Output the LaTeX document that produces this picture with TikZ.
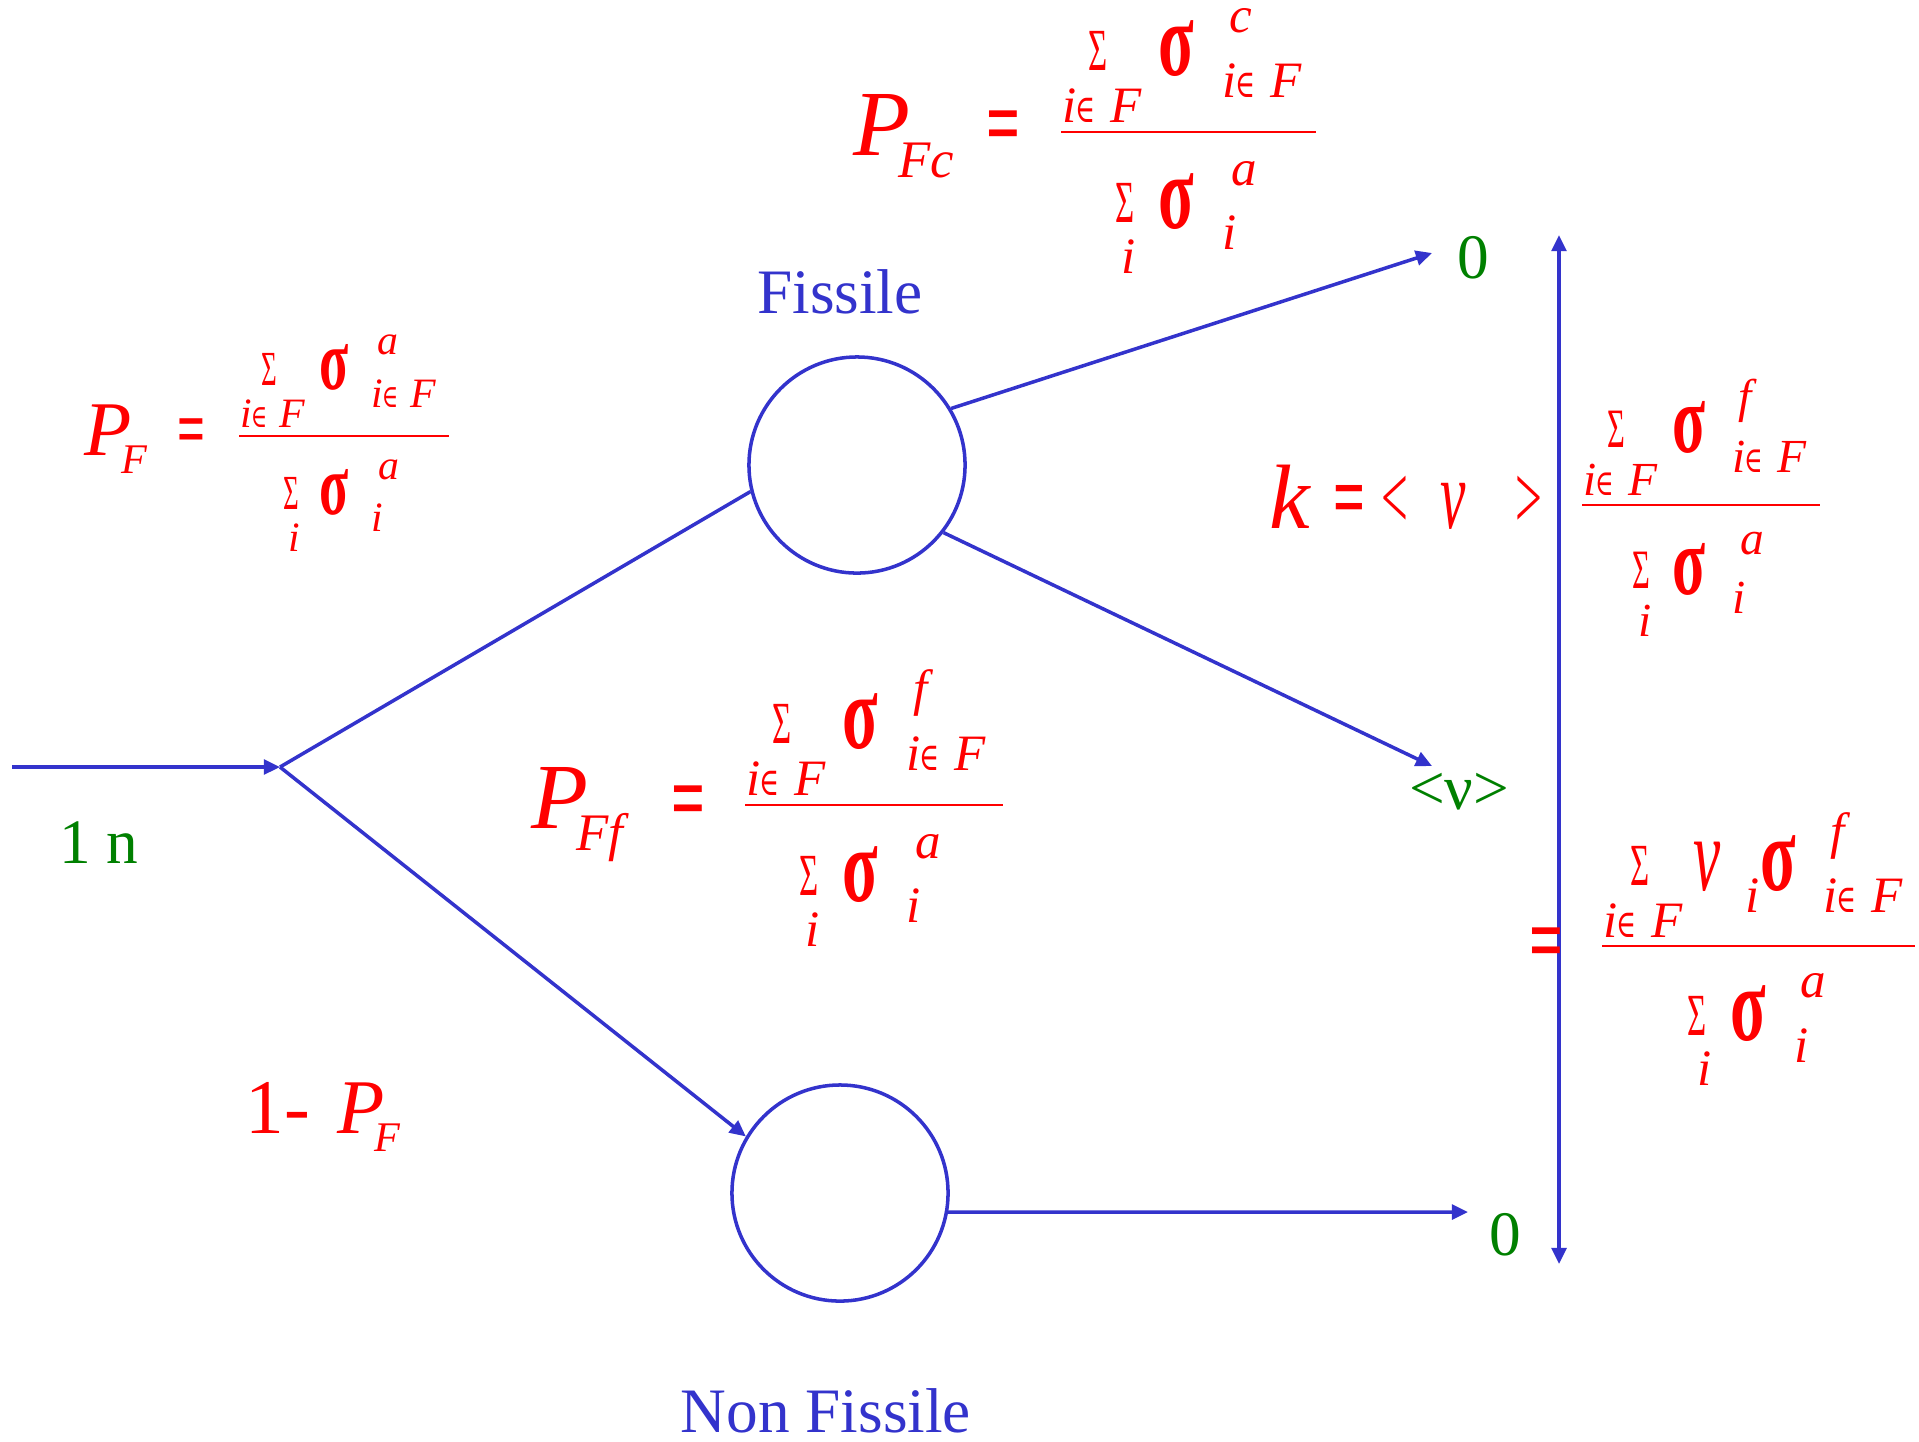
\documentclass[tikz,border=0pt]{standalone}
\usepackage{fontspec}
\usepackage{graphicx}
\setmainfont{Liberation Serif}
\newfontfamily\symf{DejaVu Serif}
\usetikzlibrary{arrows.meta}

\definecolor{nblue}{RGB}{51,51,204}
\definecolor{ngreen}{RGB}{0,128,0}
\definecolor{nred}{RGB}{255,0,0}

\newcommand{\sz}[1]{\fontsize{#1}{#1}\selectfont}
\newcommand{\inF}{\textit{i}\kern-0.03em\scalebox{0.7}[1]{\sz{11}\symf ∈}\hspace{0.3em}\textit{F}}
\newcommand{\Sig}{\scalebox{0.55}[1]{\sz{17}\upshape Σ}}
\newcommand{\sig}{\scalebox{0.62}[1]{\sz{30}\upshape\bfseries σ}}
\newcommand{\nuv}[1]{\scalebox{0.58}[1]{\sz{#1}\itshape ν}}
\newcommand{\Psub}[3]{\sz{#1}\textit{P}\kern-0.13em\raisebox{-0.24em}{\sz{#2}\textit{#3}}}
\newcommand{\eqs}[1]{\scalebox{1}[1.6]{\sz{#1}\upshape\bfseries =}}

% sum over fissile / sum over all, origin = left end of the rule
\newcommand{\sigfrac}[3]{%
  \draw[rule] (0,0) coordinate (#1) -- (#3,0);
  \node[piece] (#1-nl) at (1,-10) {\inF};
  \node[piece] (#1-ns) at (27,-62) {\Sig};
  \node[piece] (#1-nsg) at (97,-57) {\sig};
  \node[piece] (#1-nsp) at (168,-100) {#2};
  \node[piece] (#1-nsb) at (161,-35) {\inF};
  \node[piece] (#1-ds) at (54,90) {\Sig};
  \node[piece] (#1-dl) at (60,141) {i};
  \node[piece] (#1-dsg) at (97,96) {\sig};
  \node[piece] (#1-dsp) at (170,53) {a};
  \node[piece] (#1-dsb) at (161,117) {i};
}

\begin{document}
\begin{tikzpicture}[x=0.01cm,y=-0.01cm,
  link/.style={draw=nblue, line width=1pt},
  arr/.style={link, -{Triangle[length=4.6pt,width=4.2pt]}},
  ball/.style={circle, draw=nblue, line width=1pt, minimum size=2.16cm, inner sep=0pt},
  blab/.style={text=nblue, inner sep=0pt, font=\sz{18}},
  glab/.style={text=ngreen, inner sep=0pt, font=\sz{18}},
  rtxt/.style={text=nred, inner sep=0pt, anchor=base west},
  piece/.style={text=nred, inner sep=0pt, anchor=base west, font=\sz{14.5}\itshape},
  rule/.style={draw=nred, line width=0.4pt}]
\useasboundingbox (0,0) rectangle (1919,1441);

% tree
\node[ball] (fis) at (857,465) {};
\node[ball] (nonfis) at (840,1193) {};
\coordinate (in) at (12,767);
\coordinate (jn) at (280,767);
\coordinate (tA) at (1432,253);
\coordinate (tB) at (1432,766);
\coordinate (tC) at (1468,1212);
\coordinate (kt) at (1559,235);
\coordinate (kb) at (1559,1264);

\node[blab, anchor=base] (fisl) at (840,313) {Fissile};
\node[blab, anchor=base] (nonfisl) at (826,1432) {Non Fissile};
\node[glab, anchor=base] (onen) at (99,863) {1 n};
\node[glab, anchor=base] (zeroA) at (1473,278) {0};
\node[glab, anchor=base] (nuavg) at (1459,809) {<ν>};
\node[glab, anchor=base] (zeroB) at (1505,1255) {0};

\draw[arr] (in) -- (jn);
\draw[link] (jn) -- (fis.194);
\draw[arr] (jn) -- (nonfis.149);
\draw[arr] (fis.31) -- (tA);
\draw[arr] (fis.322) -- (tB);
\draw[arr] (nonfis.350) -- (tC);
\draw[link, {Triangle[length=4.6pt,width=4.2pt]}-{Triangle[length=4.6pt,width=4.2pt]}] (kt) -- (kb);

% P_F
\node[rtxt] (pf) at (84,455) {\Psub{22}{12}{F}};
\node[rtxt] (pfeq) at (177,455) {\eqs{14}};
\begin{scope}[shift={(239,436)}, scale=0.82, transform shape]
\sigfrac{pffr}{a}{256}
\end{scope}
\node[rtxt] (onem) at (245,1133) {\sz{22}1-\hspace{0.35em}\Psub{22}{12}{F}};

% P_Fc
\node[rtxt] (pfc) at (853,155) {\Psub{26.5}{15}{Fc}};
\node[rtxt] (pfceq) at (986,155) {\eqs{17}};
\begin{scope}[shift={(1061,132)}]
\sigfrac{pfcfr}{c}{255}
\end{scope}

% P_Ff
\node[rtxt] (pff) at (531,828) {\Psub{26.5}{15}{Ff}};
\node[rtxt] (pffeq) at (671,830) {\eqs{17}};
\begin{scope}[shift={(745,805)}]
\sigfrac{pfffr}{f}{258}
\end{scope}

% k
\node[rtxt] (kk) at (1269,528) {\sz{26}\textit{k}};
\node[rtxt] (keq) at (1333,527) {\eqs{16}};
\node[rtxt] (klt) at (1381,528) {\scalebox{0.52}[1]{\sz{26}<}};
\node[rtxt] (knu) at (1440,528) {\nuv{28}};
\node[rtxt] (kgt) at (1515,528) {\scalebox{0.52}[1]{\sz{26}>}};
\begin{scope}[shift={(1582,505)}, scale=0.93, transform shape]
\sigfrac{kfr}{f}{256}
\end{scope}

% = sum nu_i sigma_f / sum sigma_a
\node[rtxt] (leq) at (1529,972) {\eqs{17}};
\begin{scope}[shift={(1602,946)}]
\draw[rule] (0,0) coordinate (lfr) -- (313,0);
\node[piece] (lfr-nl) at (1,-9) {\inF};
\node[piece] (lfr-ns) at (28,-61) {\Sig};
\node[piece] (lfr-nnu) at (91,-56) {\nuv{30}};
\node[piece] (lfr-ni) at (143,-34) {i};
\node[piece] (lfr-nsg) at (158,-56) {\sig};
\node[piece] (lfr-nsp) at (228,-98) {f};
\node[piece] (lfr-nsb) at (221,-34) {\inF};
\node[piece] (lfr-ds) at (85,89) {\Sig};
\node[piece] (lfr-dl) at (95,139) {i};
\node[piece] (lfr-dsg) at (128,94) {\sig};
\node[piece] (lfr-dsp) at (198,51) {a};
\node[piece] (lfr-dsb) at (192,116) {i};
\end{scope}
\end{tikzpicture}
\end{document}
